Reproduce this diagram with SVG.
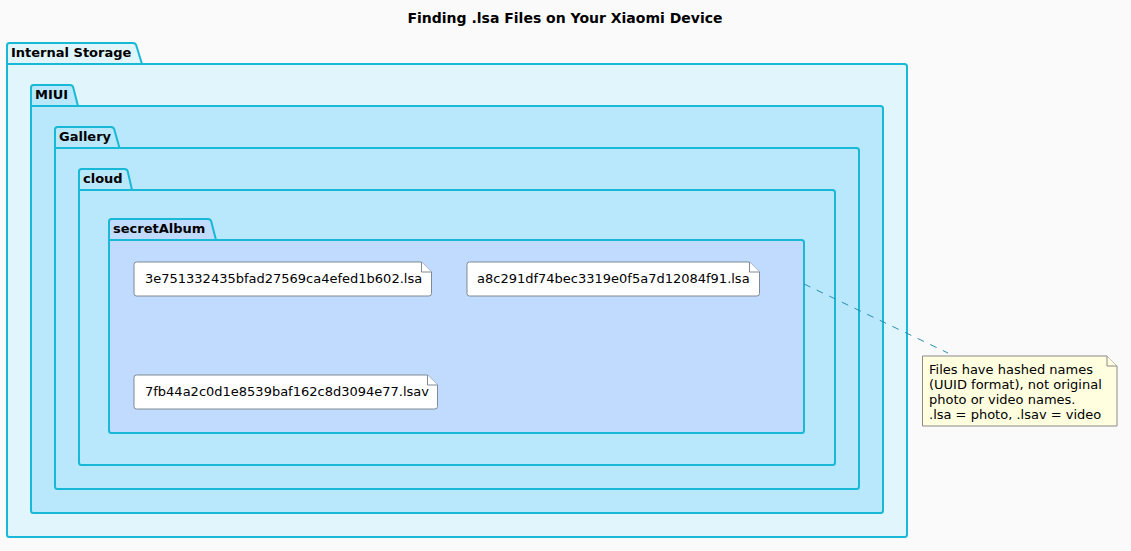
<svg xmlns="http://www.w3.org/2000/svg" width="1131" height="551" viewBox="0 0 1131 551">
<style>
.pkg{stroke:#17B9D6;stroke-width:2;}
.tabl{fill:none;stroke:#17B9D6;stroke-width:2;}
.pt{font-family:"DejaVu Sans",sans-serif;font-size:13px;font-weight:bold;fill:#000;}
.file{fill:#FFFFFF;stroke:#7F8A93;stroke-width:1;}
.ft{font-family:"DejaVu Sans",sans-serif;font-size:13px;fill:#000;}
.note{fill:#FFFFE0;stroke:#8A8A8A;stroke-width:1;}
.nt{font-family:"DejaVu Sans",sans-serif;font-size:13px;fill:#000;}
</style>
<rect width="1131" height="551" fill="#FAFAFA"/>
<text x="565" y="23" text-anchor="middle" font-family="DejaVu Sans, sans-serif" font-size="14" font-weight="bold">Finding .lsa Files on Your Xiaomi Device</text>
<g id="internal-storage">
<path class="pkg" fill="#E1F6FC" d="M9.5,43 L133,43 Q135.5,43 136.2,45.3 L142,64 L904.5,64 Q907,64 907,66.5 L907,534.5 Q907,537 904.5,537 L9.5,537 Q7,537 7,534.5 L7,45.5 Q7,43 9.5,43 Z"/>
<line class="tabl" x1="7" y1="64" x2="142" y2="64"/>
<text class="pt" x="11" y="57">Internal Storage</text>
</g>
<g id="miui">
<path class="pkg" fill="#B9E7FB" d="M33.5,85 L70,85 Q72.5,85 73.2,87.3 L78,106 L880.5,106 Q883,106 883,108.5 L883,510.5 Q883,513 880.5,513 L33.5,513 Q31,513 31,510.5 L31,87.5 Q31,85 33.5,85 Z"/>
<line class="tabl" x1="31" y1="106" x2="78" y2="106"/>
<text class="pt" x="35" y="99">MIUI</text>
</g>
<g id="gallery">
<path class="pkg" fill="#B9E7FB" d="M57.5,127 L111,127 Q113.5,127 114.2,129.3 L119.5,148 L856.5,148 Q859,148 859,150.5 L859,486.5 Q859,489 856.5,489 L57.5,489 Q55,489 55,486.5 L55,129.5 Q55,127 57.5,127 Z"/>
<line class="tabl" x1="55" y1="148" x2="119.5" y2="148"/>
<text class="pt" x="59" y="141">Gallery</text>
</g>
<g id="cloud">
<path class="pkg" fill="#B9E7FB" d="M81.5,169 L124.5,169 Q127,169 127.7,171.3 L132,190 L832.5,190 Q835,190 835,192.5 L835,462.5 Q835,465 832.5,465 L81.5,465 Q79,465 79,462.5 L79,171.5 Q79,169 81.5,169 Z"/>
<line class="tabl" x1="79" y1="190" x2="132" y2="190"/>
<text class="pt" x="83" y="183">cloud</text>
</g>
<g id="secretAlbum">
<path class="pkg" fill="#C0DBFE" d="M111.5,219 L208,219 Q210.5,219 211.2,221.3 L216,240 L801.5,240 Q804,240 804,242.5 L804,430.5 Q804,433 801.5,433 L111.5,433 Q109,433 109,430.5 L109,221.5 Q109,219 111.5,219 Z"/>
<line class="tabl" x1="109" y1="240" x2="216" y2="240"/>
<text class="pt" x="113" y="233">secretAlbum</text>
</g>
<g id="file1">
<path class="file" d="M136.5,262 L421.5,262 L431.5,272 L431.5,293.5 Q431.5,296 429,296 L136.5,296 Q134,296 134,293.5 L134,264.5 Q134,262 136.5,262 Z"/>
<path class="file" d="M421.5,262 L421.5,272 L431.5,272" fill="none"/>
<text class="ft" x="145" y="283">3e751332435bfad27569ca4efed1b602.lsa</text>
</g>
<g id="file2">
<path class="file" d="M469.5,262 L749.5,262 L759.5,272 L759.5,293.5 Q759.5,296 757,296 L469.5,296 Q467,296 467,293.5 L467,264.5 Q467,262 469.5,262 Z"/>
<path class="file" d="M749.5,262 L749.5,272 L759.5,272" fill="none"/>
<text class="ft" x="477" y="283">a8c291df74bec3319e0f5a7d12084f91.lsa</text>
</g>
<g id="file3">
<path class="file" d="M136.5,375 L427.5,375 L437.5,385 L437.5,406.5 Q437.5,409 435,409 L136.5,409 Q134,409 134,406.5 L134,377.5 Q134,375 136.5,375 Z"/>
<path class="file" d="M427.5,375 L427.5,385 L437.5,385" fill="none"/>
<text class="ft" x="145" y="396">7fb44a2c0d1e8539baf162c8d3094e77.lsav</text>
</g>
<g id="connectors">
<line x1="804" y1="284" x2="948" y2="353" stroke="#2A8EB0" stroke-width="1" stroke-dasharray="7,7"/>
</g>
<g id="note">
<path class="note" d="M922.5,356 L1107,356 L1117,366 L1117,426 L922.5,426 Z"/>
<path class="note" d="M1107,356 L1107,366 L1117,366" fill="none"/>
<text class="nt" x="929" y="374">Files have hashed names</text>
<text class="nt" x="929" y="389">(UUID format), not original</text>
<text class="nt" x="929" y="404">photo or video names.</text>
<text class="nt" x="929" y="419">.lsa = photo, .lsav = video</text>
</g>
</svg>
